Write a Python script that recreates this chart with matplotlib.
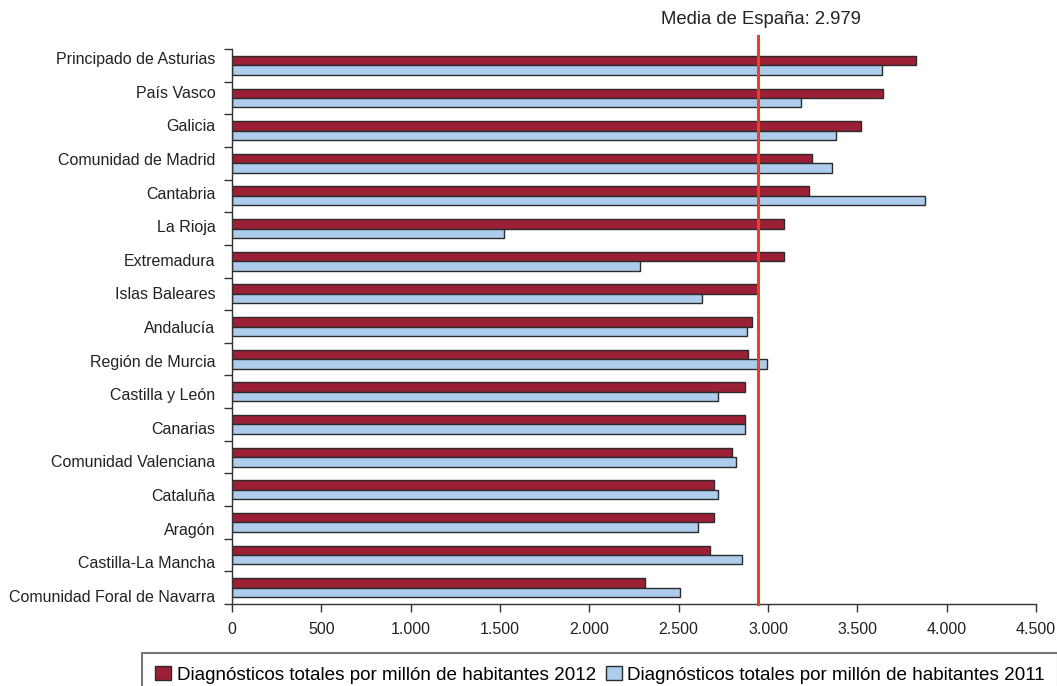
import matplotlib
matplotlib.use("Agg")
import matplotlib.pyplot as plt
import numpy as np

plt.rcParams['font.family'] = ['Liberation Sans', 'DejaVu Sans']

categories = ["Principado de Asturias", "País Vasco", "Galicia", "Comunidad de Madrid",
              "Cantabria", "La Rioja", "Extremadura", "Islas Baleares", "Andalucía",
              "Región de Murcia", "Castilla y León", "Canarias", "Comunidad Valenciana",
              "Cataluña", "Aragón", "Castilla-La Mancha", "Comunidad Foral de Navarra"]
values_2012 = [3826, 3643, 3518, 3244, 3229, 3089, 3087, 2945, 2911,
               2887, 2870, 2869, 2798, 2697, 2697, 2673, 2314]
values_2011 = [3639, 3182, 3378, 3356, 3876, 1520, 2281, 2628, 2885,
               2992, 2719, 2872, 2822, 2718, 2609, 2857, 2508]
mean_line = 2945
mean_label = "Media de España: 2.979"
xticks = [0, 500, 1000, 1500, 2000, 2500, 3000, 3500, 4000, 4500]
xtick_labels = ["0", "500", "1.000", "1.500", "2.000", "2.500", "3.000", "3.500", "4.000", "4.500"]
label_2012 = "Diagnósticos totales por millón de habitantes 2012"
label_2011 = "Diagnósticos totales por millón de habitantes 2011"

W, H = 1057, 686
fig = plt.figure(figsize=(W/100, H/100), dpi=100)
ax = fig.add_axes([232/W, 1-604/H, (1036-232)/W, (604-49)/H])

n = len(categories)
y = np.arange(n)
h = 0.29
red = "#9B2036"
blue = "#AECDEC"
edge = "#2b2b2b"
ax.barh(y - h/2, values_2012, height=h, color=red, edgecolor=edge, linewidth=1.0, label=label_2012)
ax.barh(y + h/2, values_2011, height=h, color=blue, edgecolor=edge, linewidth=1.0, label=label_2011)

ax.set_ylim(n - 0.5, -0.5)
ax.set_xlim(0, 4500)
ax.set_xticks(xticks)
ax.set_xticklabels(xtick_labels, fontsize=11.5, color='#222222')
# category labels are spread slightly wider than the bar slots in the original
label_pos = np.linspace(-0.22, n - 1 + 0.25, n)
ax.set_yticks(label_pos)
ax.set_yticklabels(categories, fontsize=11.5, color='#222222')
ax.tick_params(axis='y', length=0, pad=12)
ax.set_yticks(np.arange(n + 1) - 0.5, minor=True)
ax.tick_params(axis='y', which='minor', length=6, width=1, color='#333333')
ax.tick_params(axis='x', length=6, width=1, color='#333333', pad=7)

for s in ['top', 'right']:
    ax.spines[s].set_visible(False)
for s in ['left', 'bottom']:
    ax.spines[s].set_color('#333333')
    ax.spines[s].set_linewidth(1)

ax.plot([mean_line, mean_line], [n - 0.5, -0.9], color="#E8412B", linewidth=2.2,
        clip_on=False, zorder=5)
fig.text(761/W, 1-20/H, mean_label, ha='center', va='center', fontsize=13.3, color='#222222')

leg = fig.legend(loc='upper left', bbox_to_anchor=(142/W, 1-653/H), ncol=2, fontsize=13.6,
                 frameon=True, fancybox=False, edgecolor='#555555', handlelength=0.85,
                 handleheight=0.75, handletextpad=0.3, columnspacing=0.5, borderpad=0.7,
                 borderaxespad=0)
leg.get_frame().set_linewidth(1.5)

fig.savefig("out.png", dpi=100)
